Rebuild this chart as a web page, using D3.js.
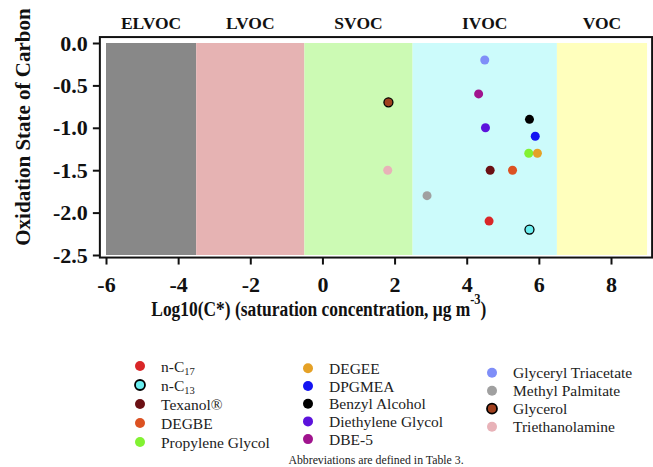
<!DOCTYPE html>
<html>
<head>
<meta charset="utf-8">
<script src="https://cdn.jsdelivr.net/npm/d3@7"></script>
<style>
  body { margin: 0; background: #fff; }
  svg { display: block; font-family: "Liberation Serif", "Times New Roman", serif; }
  .tick text { font-weight: bold; font-size: 22px; fill: #111; }
  .tick line { stroke: #111; stroke-width: 2; }
</style>
</head>
<body>
<div id="main"></div>
<script>
const ctx = {
    w: 653,
    h: 467,
    R: 4.5,
};

// volatility classes, log10(C*) boundaries
const zoneNames = ["ELVOC", "LVOC", "SVOC", "IVOC", "VOC"];
const zoneEdges = [-6, -3.5, -0.5, 2.5, 6.5, 9];
const zoneColors = ["#888888", "#e6b3b3", "#ccfab4", "#ccfbfb", "#ffffbd"];

// compounds
const names = ["n-C17", "n-C13", "Texanol®", "DEGBE", "Propylene Glycol",
               "DEGEE", "DPGMEA", "Benzyl Alcohol", "Diethylene Glycol", "DBE-5",
               "Glyceryl Triacetate", "Methyl Palmitate", "Glycerol", "Triethanolamine"];
const logC = [4.62, 5.74, 4.65, 5.27, 5.72, 5.96, 5.9, 5.74, 4.52, 4.33, 4.5, 2.9, 1.83, 1.81];
const osc  = [-2.1, -2.2, -1.5, -1.5, -1.3, -1.3, -1.1, -0.9, -1.0, -0.6, -0.2, -1.8, -0.7, -1.5];
const fills = ["#d92628", "#6aeef0", "#6b1014", "#dc5222", "#82f232",
               "#e5a126", "#1414f2", "#000000", "#5c12dc", "#a0148e",
               "#7f8ef8", "#a0a0a0", "#a0401e", "#e8b2b8"];
const outlined = [false, true, false, false, false, false, false, false, false, false,
                  false, false, true, false];
// legend columns (indices into names)
const legendCols = [[0, 1, 2, 3, 4], [5, 6, 7, 8, 9], [10, 11, 12, 13]];

const xTicks = [-6, -4, -2, 0, 2, 4, 6, 8];
const yTicks = [0, -0.5, -1, -1.5, -2, -2.5];

const x = d3.scaleLinear().domain([-6, 8]).range([106, 611]);
const y = d3.scaleLinear().domain([0, -2.5]).range([43, 255]);
// frame extents in data units
const xFrame = [-6.17, 9.14];
const yFrame = [0.07, -2.53];

const svg = d3.select("#main").append("svg")
    .attr("width", ctx.w).attr("height", ctx.h);

// zones
const zones = zoneNames.map((n, i) => ({name: n, lo: zoneEdges[i], hi: zoneEdges[i+1], color: zoneColors[i]}));
svg.append("g").selectAll("rect")
   .data(zones).enter().append("rect")
   .attr("x", d => x(d.lo))
   .attr("width", d => x(d.hi) - x(d.lo))
   .attr("y", y(0))
   .attr("height", y(-2.5) - y(0))
   .attr("fill", d => d.color);

svg.append("g").selectAll("text")
   .data(zones).enter().append("text")
   .attr("x", d => x((d.lo + d.hi) / 2))
   .attr("y", 29)
   .attr("text-anchor", "middle")
   .attr("font-weight", "bold")
   .attr("font-size", 17.5)
   .attr("fill", "#111")
   .text(d => d.name);

// frame
svg.append("rect")
   .attr("x", x(xFrame[0])).attr("y", y(yFrame[0]))
   .attr("width", x(xFrame[1]) - x(xFrame[0]))
   .attr("height", y(yFrame[1]) - y(yFrame[0]))
   .attr("fill", "none").attr("stroke", "#111").attr("stroke-width", 2);

// axes
const fmtY = d => d.toFixed(1);
const fmtX = d => String(d);
const yAxis = svg.append("g")
   .attr("transform", `translate(${x(xFrame[0])},0)`)
   .call(d3.axisLeft(y).tickValues(yTicks).tickFormat(fmtY).tickSize(7).tickPadding(5));
yAxis.select(".domain").remove();

const xAxis = svg.append("g")
   .attr("transform", `translate(0,${y(yFrame[1])})`)
   .call(d3.axisBottom(x).tickValues(xTicks).tickFormat(fmtX).tickSize(7).tickPadding(12));
xAxis.select(".domain").remove();
yAxis.attr("font-family", null).attr("font-size", null);
xAxis.attr("font-family", null).attr("font-size", null);

// axis titles
svg.append("text")
   .attr("transform", `translate(30,127) rotate(-90)`)
   .attr("text-anchor", "middle")
   .attr("font-weight", "bold").attr("font-size", 21).attr("fill", "#111")
   .text("Oxidation State of Carbon");

const xt = svg.append("text")
   .attr("transform", `translate(${x(-0.1)},316) scale(0.83,1)`)
   .attr("text-anchor", "middle")
   .attr("font-weight", "bold").attr("font-size", 21).attr("fill", "#111");
xt.append("tspan").text("Log10(C*) (saturation concentration, μg m");
xt.append("tspan").attr("dy", -12).attr("font-size", 15).text("-3");
xt.append("tspan").attr("dy", 12).text(")");

// points
const pts = names.map((n, i) => ({name: n, x: logC[i], y: osc[i], fill: fills[i], outlined: outlined[i]}));
svg.append("g").selectAll("circle")
   .data(pts).enter().append("circle")
   .attr("cx", d => x(d.x))
   .attr("cy", d => y(d.y))
   .attr("r", ctx.R)
   .attr("fill", d => d.fill)
   .attr("stroke", d => d.outlined ? "#000" : "none")
   .attr("stroke-width", 1.3);

// legend
const colX = [140, 308, 492];
const colY = [366, 368.3, 372.7];
const rowH = [19, 17.7, 18];
legendCols.forEach(function(col, c){
    const g = svg.append("g");
    col.forEach(function(idx, r){
        const cy = colY[c] + r * rowH[c];
        g.append("circle")
         .attr("cx", colX[c]).attr("cy", cy).attr("r", ctx.R + 0.5)
         .attr("fill", fills[idx])
         .attr("stroke", outlined[idx] ? "#000" : "none")
         .attr("stroke-width", 1.8);
        const t = g.append("text")
         .attr("x", colX[c] + 21).attr("y", cy + 5.5)
         .attr("font-size", 15.5).attr("fill", "#222");
        const m = names[idx].match(/^n-C(\d+)$/);
        if (m) {
            t.append("tspan").text("n-C");
            t.append("tspan").attr("dy", 3).attr("font-size", 10.5).text(m[1]);
        } else {
            t.text(names[idx]);
        }
    });
});

svg.append("text")
   .attr("x", 376).attr("y", 464)
   .attr("text-anchor", "middle")
   .attr("font-size", 11.8).attr("fill", "#222")
   .text("Abbreviations are defined in Table 3.");
</script>
</body>
</html>
